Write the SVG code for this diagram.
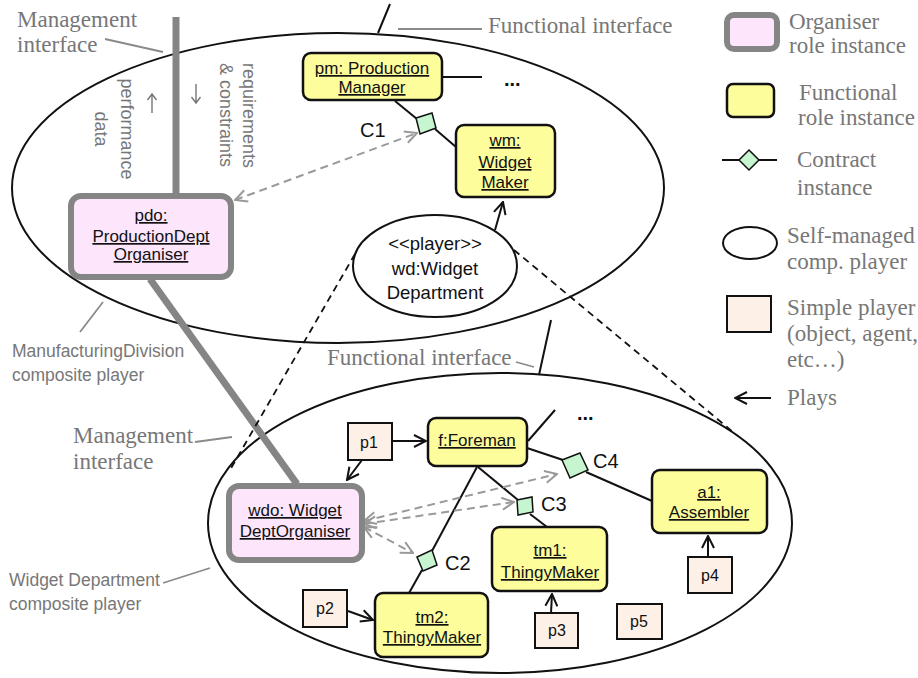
<svg xmlns="http://www.w3.org/2000/svg" width="918" height="678" viewBox="0 0 918 678">
<defs>
<style>
.fn{fill:#fdfd9c;stroke:#111;stroke-width:2.5}
.org{fill:#fde6fb;stroke:#858585;stroke-width:6}
.sp{fill:#fdf0e6;stroke:#111;stroke-width:2}
.ct{fill:#c6f5cf;stroke:#111;stroke-width:1.5}
.ell{fill:none;stroke:#111;stroke-width:2}
.ln{stroke:#111;stroke-width:2;fill:none}
.play{stroke:#111;stroke-width:2;fill:none;marker-end:url(#ah)}
.dash{stroke:#111;stroke-width:1.8;stroke-dasharray:7 5;fill:none}
.gd{stroke:#9a9a9a;stroke-width:2;stroke-dasharray:8 5;fill:none;marker-start:url(#gah);marker-end:url(#gah)}
.mg{stroke:#858585;stroke-width:7;fill:none}
.lead{stroke:#8a8a8a;stroke-width:1.8;fill:none}
.garr{stroke:#777;stroke-width:1.4;fill:none}
.lbl{font-family:"Liberation Sans",Arial,sans-serif;font-size:17px;text-anchor:middle;text-decoration:underline;fill:#111}
.sl{font-family:"Liberation Sans",Arial,sans-serif;font-size:16px;text-anchor:middle;fill:#111}
.wd{font-family:"Liberation Sans",Arial,sans-serif;font-size:18.5px;text-anchor:middle;fill:#111}
.cl{font-family:"Liberation Sans",Arial,sans-serif;font-size:20px;fill:#111}
.dots{font-family:"Liberation Sans",Arial,sans-serif;font-size:20px;font-weight:bold;fill:#111}
.ser{font-family:"Liberation Serif","Times New Roman",serif;font-size:23px;fill:#777}
.gs{font-family:"Liberation Sans",Arial,sans-serif;font-size:17.5px;fill:#777}
.rot{font-family:"Liberation Sans",Arial,sans-serif;font-size:18px;fill:#777}
</style>
<marker id="ah" viewBox="0 0 14 14" refX="13" refY="7" markerWidth="14" markerHeight="14" markerUnits="userSpaceOnUse" orient="auto"><path d="M1,1 L13,7 L1,13" fill="none" stroke="#111" stroke-width="2"/></marker>
<marker id="gah" viewBox="0 0 14 14" refX="13" refY="7" markerWidth="14" markerHeight="14" markerUnits="userSpaceOnUse" orient="auto-start-reverse"><path d="M1,1 L13,7 L1,13" fill="none" stroke="#9a9a9a" stroke-width="2"/></marker>
</defs>
<rect width="918" height="678" fill="#fff"/>

<!-- composite players -->
<g id="manufacturingDivision"><ellipse class="ell" cx="338" cy="188" rx="326" ry="155"/></g>
<g id="widgetDepartmentComposite"><ellipse class="ell" cx="500" cy="523" rx="292" ry="150"/></g>

<!-- annotations -->
<g id="annotations">
<line class="lead" x1="105" y1="39" x2="163" y2="52"/>
<line class="lead" x1="398" y1="29" x2="482" y2="29"/>
<line class="lead" x1="80" y1="332" x2="103" y2="302"/>
<line class="lead" x1="516" y1="362" x2="534" y2="367"/>
<line class="lead" x1="195" y1="442" x2="232" y2="437"/>
<line class="lead" x1="163" y1="583" x2="210" y2="568"/>
<text class="ser" x="17" y="27">Management</text>
<text class="ser" x="17" y="52">interface</text>
<text class="ser" x="488" y="33">Functional interface</text>
<text class="ser" x="327" y="365">Functional interface</text>
<text class="ser" x="73" y="443">Management</text>
<text class="ser" x="73" y="469">interface</text>
<text class="gs" x="12" y="357">ManufacturingDivision</text>
<text class="gs" x="12" y="381">composite player</text>
<text class="gs" x="9" y="586">Widget Department</text>
<text class="gs" x="9" y="610">composite player</text>
<text class="rot" transform="translate(243,63) rotate(90)">requirements</text>
<text class="rot" transform="translate(220,63) rotate(90)">&amp; constraints</text>
<text class="rot" text-anchor="middle" transform="translate(121,129) rotate(90)">performance</text>
<text class="rot" text-anchor="middle" transform="translate(95,129) rotate(90)">data</text>
<path class="garr" d="M196,84 V103 M191.5,97 L196,103 L200.5,97"/>
<path class="garr" d="M152,113 V94 M147.5,100 L152,94 L156.5,100"/>
</g>

<!-- connectors -->
<g id="connectors">
<line class="mg" x1="176" y1="17" x2="176" y2="196"/>
<line class="mg" x1="150" y1="279" x2="297" y2="484"/>
<line class="ln" x1="390" y1="4" x2="378" y2="33"/>
<line class="ln" x1="551" y1="320" x2="539" y2="375"/>
<line class="ln" x1="442" y1="77" x2="482" y2="77"/>
<line class="ln" x1="395" y1="101" x2="417" y2="119"/>
<line class="ln" x1="435" y1="129" x2="456" y2="147"/>
<line class="ln" x1="528" y1="441" x2="555" y2="410"/>
<line class="ln" x1="527" y1="448" x2="563" y2="460"/>
<line class="ln" x1="586" y1="472" x2="652" y2="501"/>
<line class="ln" x1="478" y1="467" x2="518" y2="500"/>
<line class="ln" x1="530" y1="514" x2="547" y2="527"/>
<line class="ln" x1="477" y1="467" x2="432" y2="551"/>
<line class="ln" x1="422" y1="570" x2="409" y2="593"/>
<line class="dash" x1="355" y1="254" x2="230" y2="470"/>
<line class="dash" x1="514" y1="250" x2="733" y2="432"/>
<line class="play" x1="495" y1="230" x2="503" y2="202"/>
<line class="play" x1="392" y1="441" x2="426" y2="441"/>
<line class="play" x1="362" y1="460" x2="347" y2="480"/>
<line class="play" x1="348" y1="611" x2="373" y2="620"/>
<line class="play" x1="551" y1="613" x2="552" y2="594"/>
<line class="play" x1="708" y1="557" x2="708" y2="536"/>
<line class="gd" x1="235" y1="200" x2="417" y2="133"/>
<line class="gd" x1="364" y1="521" x2="557" y2="474"/>
<line class="gd" x1="364" y1="524" x2="514" y2="502"/>
<line class="gd" x1="364" y1="527" x2="413" y2="553"/>
</g>

<!-- contracts -->
<g id="C1"><polygon class="ct" points="416,118 432,113 436,128 420,134"/><text class="cl" x="360" y="137">C1</text></g>
<g id="C2"><polygon class="ct" points="417,557 432,550 437,565 423,571"/><text class="cl" x="445" y="570">C2</text></g>
<g id="C3"><polygon class="ct" points="517,500 532,497 533,512 518,515"/><text class="cl" x="541" y="511">C3</text></g>
<g id="C4"><polygon class="ct" points="562,460 580,453 588,470 570,478"/><text class="cl" x="593" y="468">C4</text></g>

<!-- role instances -->
<g id="pm"><rect class="fn" x="303" y="53" width="139" height="47" rx="8"/><text class="lbl" x="372" y="74">pm: Production </text><text class="lbl" x="372" y="93">Manager</text></g>
<g id="wm"><rect class="fn" x="456" y="125" width="99" height="72" rx="8"/><text class="lbl" x="505" y="146">wm: </text><text class="lbl" x="505" y="168">Widget</text><text class="lbl" x="505" y="188">Maker</text></g>
<g id="pdo"><rect class="org" x="71" y="196" width="160" height="81" rx="10"/><text class="lbl" x="151" y="221">pdo: </text><text class="lbl" x="151" y="242">ProductionDept </text><text class="lbl" x="151" y="260">Organiser</text></g>
<g id="wd"><ellipse cx="435" cy="266" rx="82" ry="51" fill="#fff" stroke="#111" stroke-width="2"/><text class="wd" x="435" y="250">&lt;&lt;player&gt;&gt;</text><text class="wd" x="435" y="275">wd:Widget</text><text class="wd" x="435" y="299">Department</text></g>
<g id="f"><rect class="fn" x="428" y="418" width="99" height="48" rx="8"/><text class="lbl" x="477" y="446">f:Foreman</text></g>
<g id="wdo"><rect class="org" x="229" y="486" width="133" height="74" rx="10"/><text class="lbl" x="295" y="516">wdo: Widget</text><text class="lbl" x="295" y="537">DeptOrganiser</text></g>
<g id="tm1"><rect class="fn" x="492" y="527" width="115" height="64" rx="8"/><text class="lbl" x="550" y="556">tm1:</text><text class="lbl" x="550" y="578">ThingyMaker</text></g>
<g id="tm2"><rect class="fn" x="375" y="593" width="113" height="64" rx="8"/><text class="lbl" x="432" y="623">tm2:</text><text class="lbl" x="432" y="643">ThingyMaker</text></g>
<g id="a1"><rect class="fn" x="652" y="470" width="115" height="63" rx="8"/><text class="lbl" x="709" y="498">a1:</text><text class="lbl" x="709" y="518">Assembler</text></g>
<g id="dots"><text class="dots" x="504" y="86">...</text><text class="dots" x="577" y="420">...</text></g>

<!-- simple players -->
<g id="p1"><rect class="sp" x="348" y="423" width="44" height="37"/><text class="sl" x="369" y="448">p1</text></g>
<g id="p2"><rect class="sp" x="303" y="590" width="44" height="37"/><text class="sl" x="325" y="614">p2</text></g>
<g id="p3"><rect class="sp" x="535" y="613" width="43" height="35"/><text class="sl" x="557" y="636">p3</text></g>
<g id="p4"><rect class="sp" x="688" y="557" width="44" height="36"/><text class="sl" x="710" y="581">p4</text></g>
<g id="p5"><rect class="sp" x="617" y="604" width="45" height="35"/><text class="sl" x="639" y="627">p5</text></g>

<!-- legend -->
<g id="legend">
<rect class="org" x="727" y="15" width="50" height="34" rx="7"/>
<text class="ser" x="789" y="29">Organiser</text><text class="ser" x="789" y="53">role instance</text>
<rect class="fn" x="727" y="84" width="47" height="33" rx="6"/>
<text class="ser" x="799" y="100">Functional</text><text class="ser" x="798" y="125">role instance</text>
<line class="ln" x1="722" y1="160" x2="777" y2="160"/>
<polygon class="ct" points="749,150 759,160 749,170 739,160"/>
<text class="ser" x="797" y="167">Contract</text><text class="ser" x="797" y="195">instance</text>
<ellipse class="ell" cx="750" cy="243" rx="27" ry="16"/>
<text class="ser" x="787" y="243">Self-managed</text><text class="ser" x="787" y="269">comp. player</text>
<rect class="sp" x="727" y="296" width="44" height="36"/>
<text class="ser" x="787" y="315">Simple player</text><text class="ser" x="787" y="341">(object, agent,</text><text class="ser" x="787" y="367">etc…)</text>
<line class="play" x1="771" y1="398" x2="735" y2="398"/>
<text class="ser" x="787" y="405">Plays</text>
</g>
</svg>
